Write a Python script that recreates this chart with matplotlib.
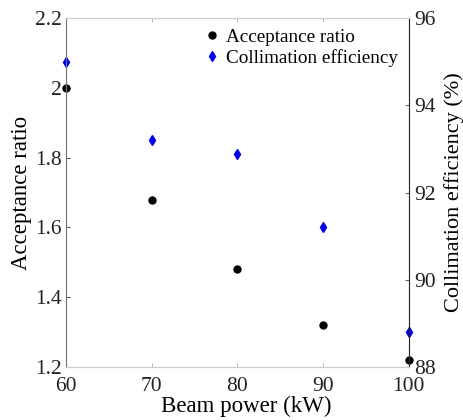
import matplotlib
matplotlib.use("Agg")
from matplotlib import pyplot as plt

plt.rcParams["font.family"] = ["Liberation Serif", "DejaVu Serif"]

# data
power = [60, 70, 80, 90, 100]
acceptance = [2.0, 1.68, 1.48, 1.32, 1.22]
collimation = [95.0, 93.2, 92.88, 91.2, 88.8]

fig = plt.figure(figsize=(4.64, 4.2), dpi=100)
ax = fig.add_axes([0.142, 0.126, 0.739, 0.831])
ax2 = ax.twinx()

l1, = ax.plot(power, acceptance, "o", color="black", markersize=5,
              linestyle="none", label="Acceptance ratio", clip_on=False)
l2, = ax2.plot(power, collimation, "d", color="#0000ee", markersize=5,
               linestyle="none", label="Collimation efficiency", clip_on=False)

ax.set_xlim(60, 100)
ax.set_ylim(1.2, 2.2)
ax2.set_ylim(88, 96)
ax.set_xticks([60, 70, 80, 90, 100])
ax.set_yticks([1.2, 1.4, 1.6, 1.8, 2.0, 2.2])
ax.set_yticklabels(["1.2", "1.4", "1.6", "1.8", "2", "2.2"])
ax2.set_yticks([88, 90, 92, 94, 96])

ax.set_xlabel("Beam power (kW)", fontsize=16.5)
ax.xaxis.set_label_coords(0.525, -0.082)
ax.set_ylabel("Acceptance ratio", fontsize=16.5, labelpad=2)
ax2.set_ylabel("Collimation efficiency (%)", fontsize=16, labelpad=6)

for a in (ax, ax2):
    a.tick_params(direction="in", length=3, width=0.6, labelsize=15.5,
                  colors="#222222")
    for s in a.spines.values():
        s.set_linewidth(0.8)
        s.set_color("#cccccc")
ax.tick_params(axis="x", top=True, color="#aaaaaa", pad=7)
ax.tick_params(axis="y", pad=3)
ax2.tick_params(axis="y", pad=4, color="#444444")
ax2.spines["left"].set_color("#777777")
ax2.spines["right"].set_color("#222222")

ax.legend(handles=[l1, l2], loc="upper right", frameon=False, fontsize=13.8,
          handletextpad=0.1, borderaxespad=0.15, labelspacing=0.15,
          handlelength=1.3, bbox_to_anchor=(1.0, 1.0))

fig.savefig("out.png", dpi=100)
